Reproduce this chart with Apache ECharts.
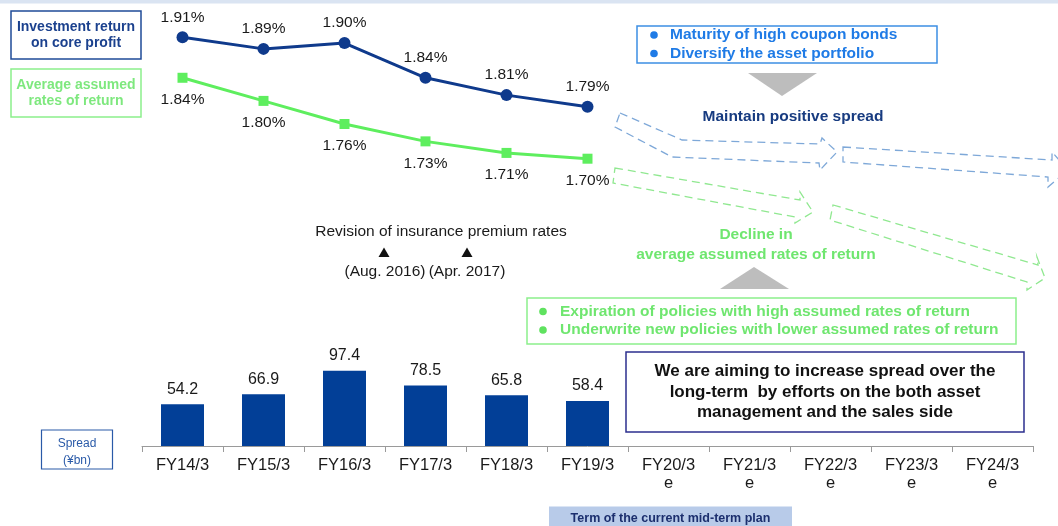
<!DOCTYPE html>
<html>
<head>
<meta charset="utf-8">
<title>Spread and yields</title>
<script src="https://cdn.jsdelivr.net/npm/echarts@6/dist/echarts.min.js"></script>
<style>
  html, body { margin: 0; padding: 0; background: #ffffff; }
  #chart { width: 1058px; height: 526px; }
</style>
</head>
<body>
<div id="chart"></div>
<script>
// Fiscal years on the shared horizontal axis
const categories = ['FY14/3', 'FY15/3', 'FY16/3', 'FY17/3', 'FY18/3', 'FY19/3',
  'FY20/3\ne', 'FY21/3\ne', 'FY22/3\ne', 'FY23/3\ne', 'FY24/3\ne'];
// Investment return on core profit (%)
const investmentReturn = [1.91, 1.89, 1.90, 1.84, 1.81, 1.79];
// Average assumed rates of return (%)
const assumedRate = [1.84, 1.80, 1.76, 1.73, 1.71, 1.70];
// Spread (¥bn)
const spread = [54.2, 66.9, 97.4, 78.5, 65.8, 58.4];

const FONT = '"Liberation Sans", Arial, sans-serif';
const NAVY = '#0f3a8c';
const BAR = '#023f97';
const GREEN = '#5eee5e';
const GREEN_TEXT = '#6fe66f';
const BRIGHT_BLUE = '#1f7be6';

const chart = echarts.init(document.getElementById('chart'), null, { renderer: 'canvas' });

function txt(text, x, y, font, fill, align, lineHeight) {
  return {
    type: 'text', z: 20,
    style: { text, x, y, font, fill, align: align || 'center', verticalAlign: 'middle', lineHeight: lineHeight }
  };
}
function box(x, y, w, h, stroke, lw, fill) {
  return {
    type: 'rect', z: 10,
    shape: { x, y, width: w, height: h },
    style: { fill: fill || '#ffffff', stroke: stroke, lineWidth: lw || 1.5 }
  };
}
function dashedArrow(points, stroke) {
  return {
    type: 'polygon', z: 5,
    shape: { points },
    style: { fill: 'none', stroke, lineWidth: 1.3, lineDash: [8, 5] }
  };
}
function tri(points, fill) {
  return { type: 'polygon', z: 10, shape: { points }, style: { fill } };
}
function dot(cx, cy, fill) {
  return { type: 'circle', z: 20, shape: { cx, cy, r: 3.8 }, style: { fill } };
}

const graphics = [
  // thin band across the top
  { type: 'rect', z: 1, shape: { x: 0, y: 0, width: 1058, height: 3.5 }, style: { fill: '#dae4f2' } },

  // series keys
  box(11, 11, 130, 48, '#1f4b98', 1.5),
  txt('Investment return\non core profit', 76, 35.5, 'bold 14px ' + FONT, '#1b418e', 'center', 16),
  box(11, 69, 130, 48, '#8cef8c', 1.5),
  txt('Average assumed\nrates of return', 76, 93, 'bold 14px ' + FONT, '#7ee87e', 'center', 16),

  // asset side
  box(637, 26, 300, 37, '#3d8fe4', 1.5),
  dot(654, 35, BRIGHT_BLUE),
  dot(654, 53.5, BRIGHT_BLUE),
  txt('Maturity of high coupon bonds', 670, 35, 'bold 15.5px ' + FONT, BRIGHT_BLUE, 'left'),
  txt('Diversify the asset portfolio', 670, 53.5, 'bold 15.5px ' + FONT, BRIGHT_BLUE, 'left'),
  tri([[748, 73], [817, 73], [782, 96]], '#bdbdbd'),
  txt('Maintain positive spread', 793, 117, 'bold 15.5px ' + FONT, '#173b80'),
  dashedArrow([[620, 113], [682, 140], [820, 144], [822, 138], [837, 152], [820, 170], [819, 163], [672, 157], [615, 127]], '#7ea8d8'),
  dashedArrow([[843, 147], [1052, 160], [1052, 152], [1068, 170], [1048, 187], [1048, 177], [843, 162]], '#7ea8d8'),

  // liability side
  dashedArrow([[615, 168], [800, 200], [800, 192], [813, 212], [795, 223], [795, 217], [613, 183]], '#90e890'),
  dashedArrow([[833, 205], [1038, 265], [1037, 257], [1045, 278], [1027, 290], [1027, 282], [830, 220]], '#90e890'),
  txt('Decline in\naverage assumed rates of return', 756, 245, 'bold 15.5px ' + FONT, GREEN_TEXT, 'center', 20),
  tri([[720, 289], [789, 289], [754, 267]], '#bdbdbd'),
  box(527, 298, 489, 46, '#8cef8c', 1.5),
  dot(543, 311.5, '#5fe25f'),
  dot(543, 330, '#5fe25f'),
  txt('Expiration of policies with high assumed rates of return', 560, 311.5, 'bold 15.5px ' + FONT, GREEN_TEXT, 'left'),
  txt('Underwrite new policies with lower assumed rates of return', 560, 330, 'bold 15.5px ' + FONT, GREEN_TEXT, 'left'),

  // premium rate revisions
  txt('Revision of insurance premium rates', 441, 231.5, '15.5px ' + FONT, '#1a1a1a'),
  tri([[384, 247.5], [378.5, 257], [389.5, 257]], '#111111'),
  tri([[467, 247.5], [461.5, 257], [472.5, 257]], '#111111'),
  txt('(Aug. 2016)', 385, 271.5, '15.5px ' + FONT, '#1a1a1a'),
  txt('(Apr. 2017)', 467, 271.5, '15.5px ' + FONT, '#1a1a1a'),

  // long-term message
  box(626, 352, 398, 80, '#2c2f8e', 1.5),
  txt('We are aiming to increase spread over the\nlong-term  by efforts on the both asset\nmanagement and the sales side',
      825, 392, 'bold 17px ' + FONT, '#111111', 'center', 20.5),

  // bar units
  box(41.5, 430, 71, 39, '#2a5aa8', 1.2),
  txt('Spread\n(¥bn)', 77, 452.5, '12px ' + FONT, '#2a5aa8', 'center', 17),

  // mid-term plan band
  { type: 'rect', z: 10, shape: { x: 549, y: 506.5, width: 243, height: 20 }, style: { fill: '#b8cbe9' } },
  txt('Term of the current mid-term plan', 670.5, 519, 'bold 12.5px ' + FONT, '#1c2f6e')
];

const option = {
  animation: false,
  backgroundColor: '#ffffff',
  textStyle: { fontFamily: FONT },
  grid: [
    { left: 142, right: 25, top: 14.2, height: 173.4 },
    { left: 142, right: 25, top: 346, height: 100 }
  ],
  xAxis: [
    { type: 'category', gridIndex: 0, data: categories, show: false, boundaryGap: true },
    {
      type: 'category', gridIndex: 1, data: categories, boundaryGap: true,
      axisLine: { lineStyle: { color: '#9a9a9a', width: 1 } },
      axisTick: { show: true, length: 6, lineStyle: { color: '#9a9a9a' } },
      axisLabel: { color: '#1a1a1a', fontSize: 16.5, margin: 10, lineHeight: 18, fontFamily: FONT, interval: 0 }
    }
  ],
  yAxis: [
    { type: 'value', gridIndex: 0, min: 1.65, max: 1.95, show: false },
    { type: 'value', gridIndex: 1, min: 0, max: 129.5, show: false }
  ],
  series: [
    {
      type: 'bar', xAxisIndex: 1, yAxisIndex: 1, data: spread, barWidth: 43,
      itemStyle: { color: BAR },
      label: { show: true, position: 'top', distance: 7, color: '#1a1a1a', fontSize: 16, fontFamily: FONT }
    },
    {
      type: 'line', xAxisIndex: 0, yAxisIndex: 0, data: investmentReturn,
      symbol: 'circle', symbolSize: 12,
      lineStyle: { color: NAVY, width: 3 }, itemStyle: { color: NAVY },
      label: { show: true, position: 'top', distance: 6, color: '#1a1a1a', fontSize: 15.5, fontFamily: FONT,
               formatter: p => p.value.toFixed(2) + '%' }
    },
    {
      type: 'line', xAxisIndex: 0, yAxisIndex: 0, data: assumedRate,
      symbol: 'rect', symbolSize: 10,
      lineStyle: { color: GREEN, width: 3 }, itemStyle: { color: GREEN },
      label: { show: true, position: 'bottom', distance: 9, color: '#1a1a1a', fontSize: 15.5, fontFamily: FONT,
               formatter: p => p.value.toFixed(2) + '%' }
    }
  ],
  graphic: graphics
};

chart.setOption(option);
</script>
</body>
</html>
